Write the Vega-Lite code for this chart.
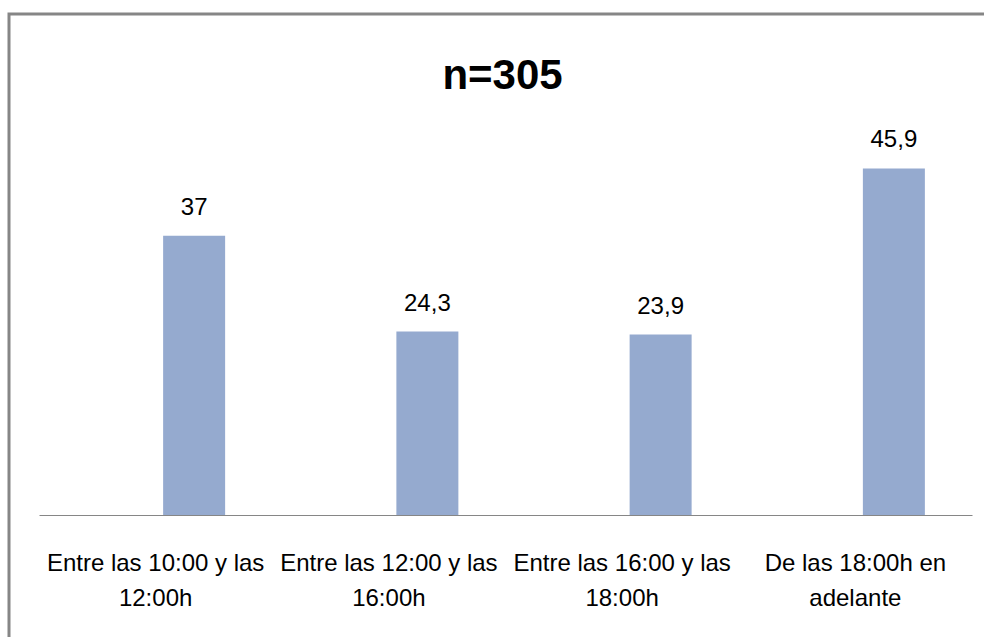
{
  "$schema": "https://vega.github.io/schema/vega-lite/v6.json",
  "autosize": {"type": "none"},
  "padding": {"left": 9, "top": 14, "right": -4, "bottom": -4},
  "width": 979,
  "height": 627,
  "background": "white",
  "config": {
    "view": {"stroke": "#868686", "strokeWidth": 3, "fill": "white"},
    "locale": {"number": {"decimal": ",", "thousands": ".", "grouping": [3], "currency": ["", " €"]}}
  },
  "title": {
    "text": "n=305",
    "font": "Liberation Sans",
    "fontSize": 42,
    "fontWeight": "bold",
    "color": "#000000",
    "anchor": "middle",
    "frame": "group",
    "baseline": "alphabetic",
    "offset": -117,
    "dx": 4
  },
  "data": {
    "values": [
      {"franja": "Entre las 10:00 y las 12:00h", "porcentaje": 37},
      {"franja": "Entre las 12:00 y las 16:00h", "porcentaje": 24.3},
      {"franja": "Entre las 16:00 y las 18:00h", "porcentaje": 23.9},
      {"franja": "De las 18:00h en adelante", "porcentaje": 45.9}
    ]
  },
  "encoding": {
    "x": {
      "field": "franja",
      "type": "nominal",
      "sort": null,
      "scale": {"range": [30, 963], "paddingInner": 0, "paddingOuter": 0},
      "axis": {
        "title": null,
        "orient": "bottom",
        "offset": -126,
        "domain": true,
        "domainColor": "#868686",
        "domainWidth": 1,
        "ticks": false,
        "tickSize": 0,
        "grid": false,
        "labelAngle": 0,
        "labelAlign": "center",
        "labelBaseline": "alphabetic",
        "labelPadding": 55,
        "labelLineHeight": 35,
        "labelFont": "Liberation Sans",
        "labelFontSize": 24,
        "labelColor": "#000000",
        "labelLimit": 1000,
        "labelExpr": "[substring(datum.label, 0, lastindexof(datum.label, ' ')), substring(datum.label, lastindexof(datum.label, ' ') + 1)]"
      }
    },
    "y": {
      "field": "porcentaje",
      "type": "quantitative",
      "scale": {"domain": [0, 50], "range": [501, 123.5]},
      "axis": null
    }
  },
  "layer": [
    {"mark": {"type": "bar", "width": 62, "xOffset": 38.5, "color": "#95aacf"}},
    {
      "mark": {"type": "text", "xOffset": 38.5, "dy": -21, "baseline": "alphabetic", "font": "Liberation Sans", "fontSize": 24, "color": "#000000"},
      "encoding": {"text": {"field": "porcentaje", "type": "quantitative"}}
    }
  ]
}
